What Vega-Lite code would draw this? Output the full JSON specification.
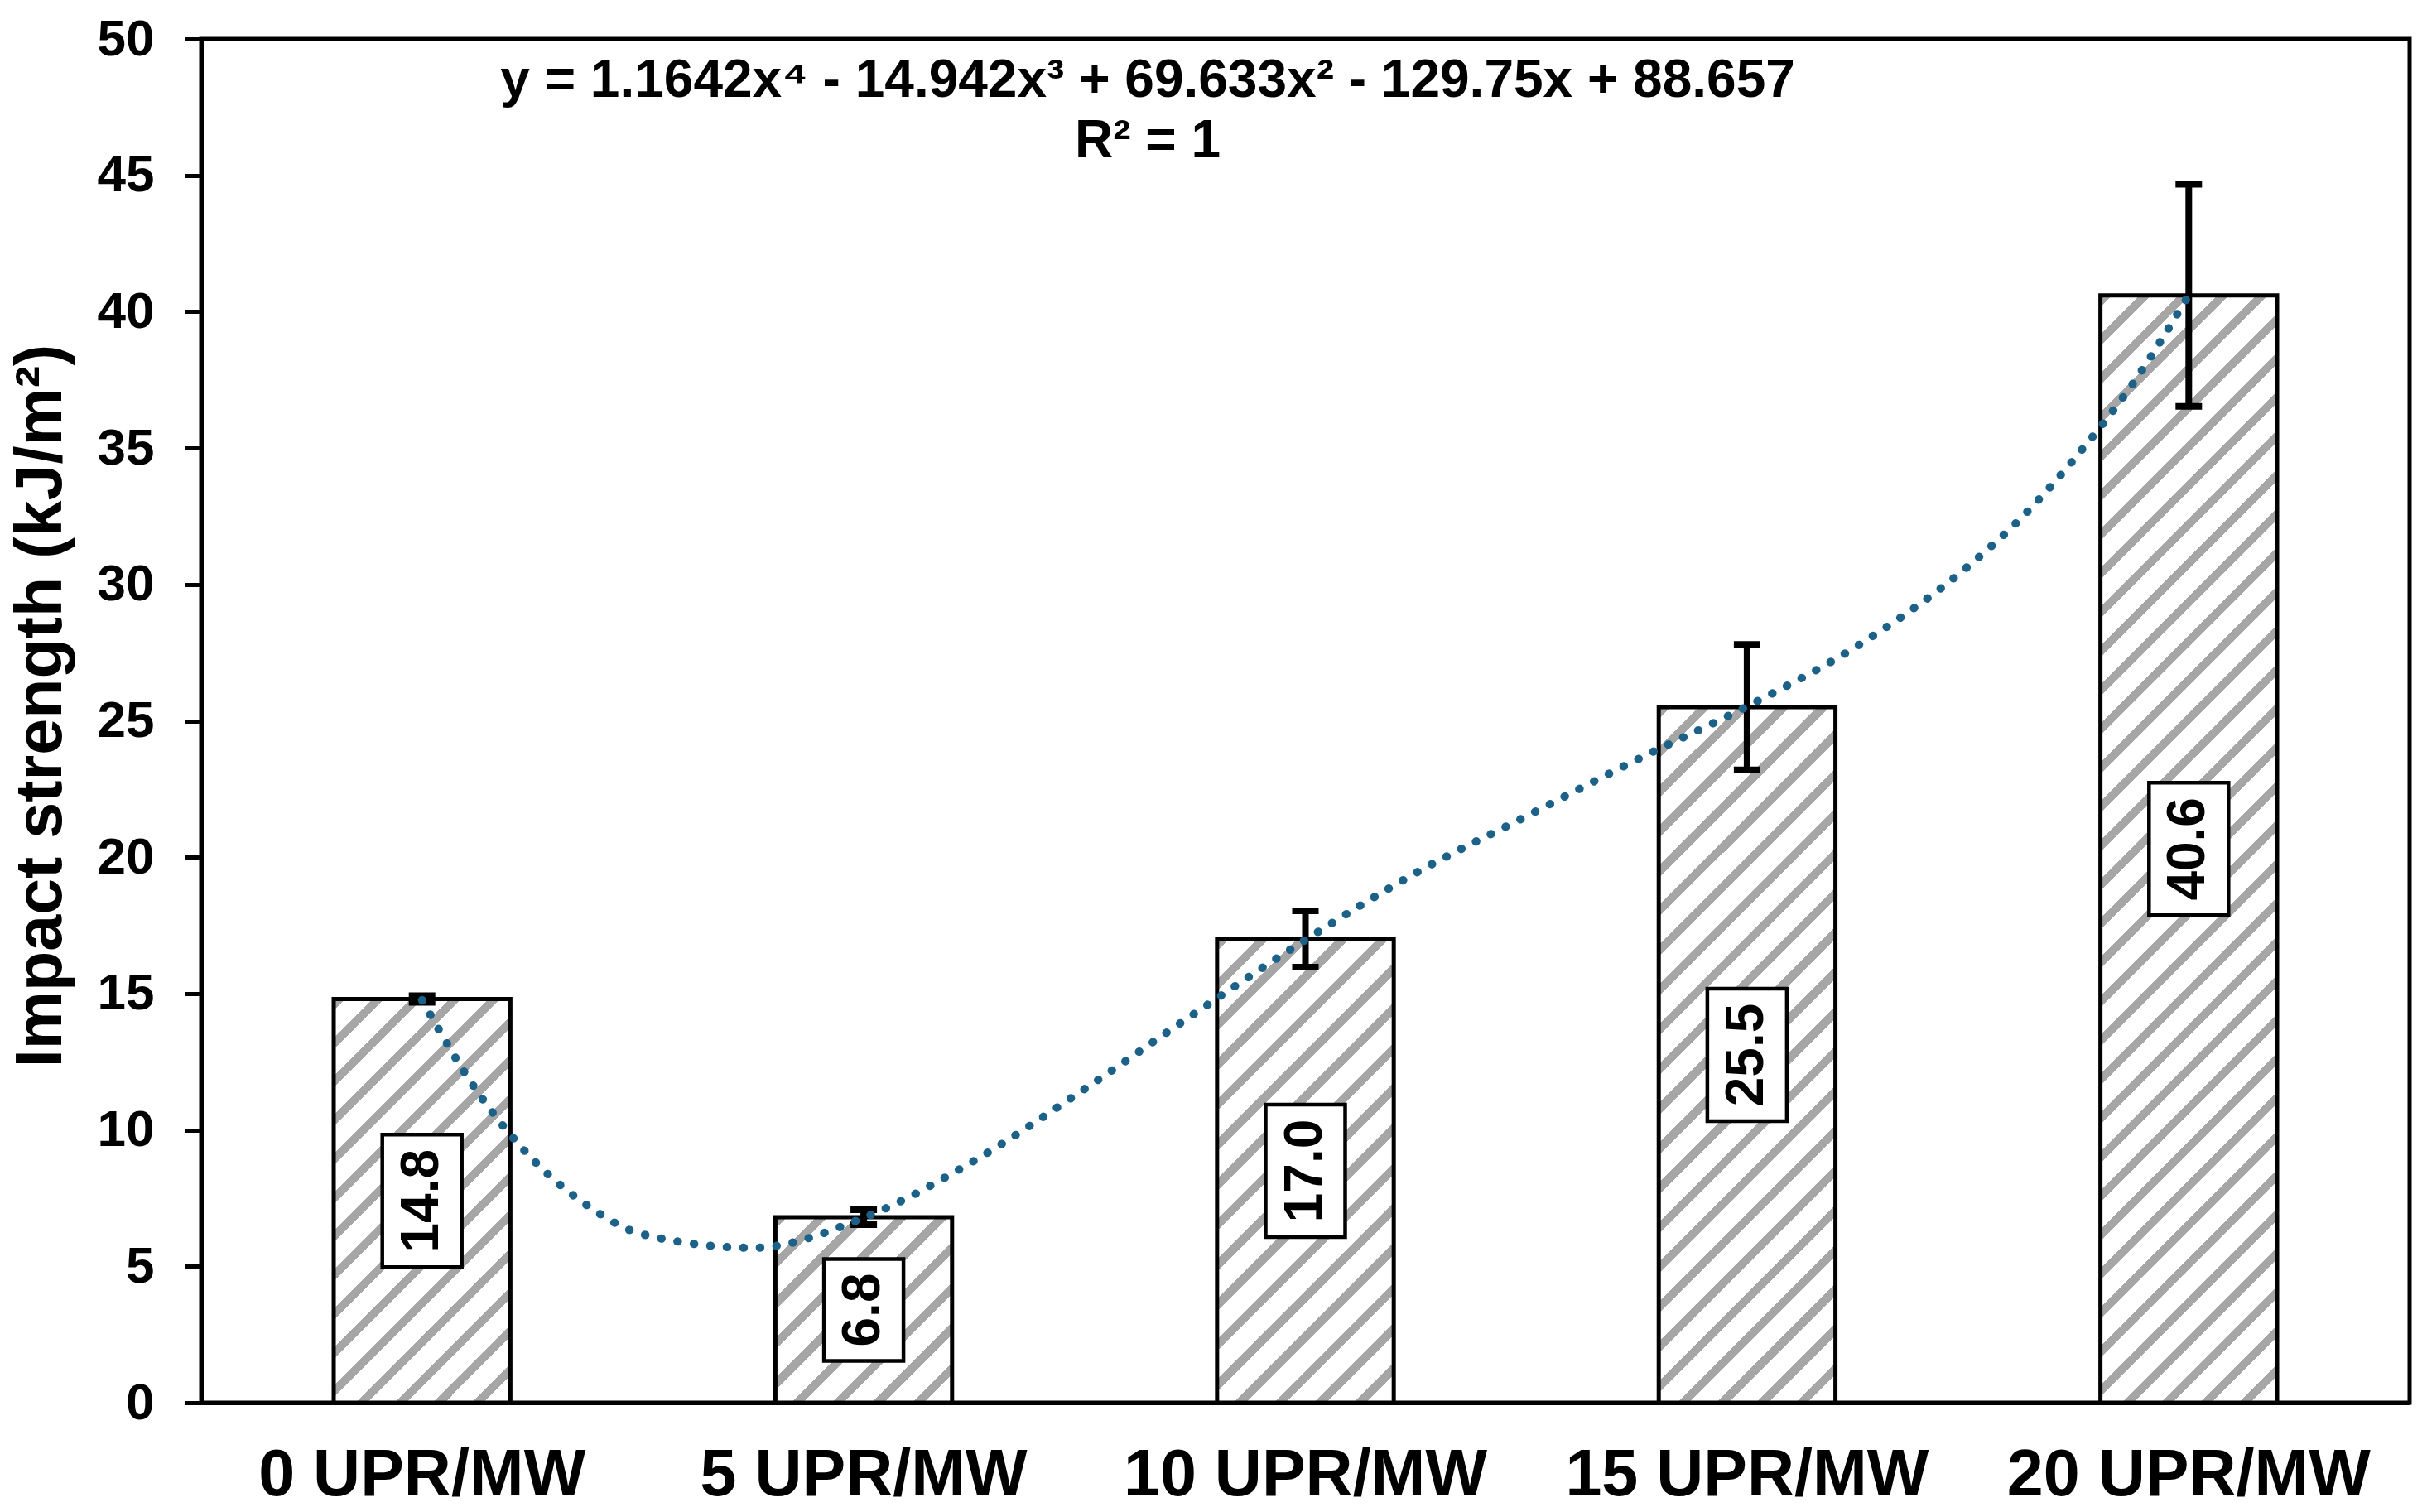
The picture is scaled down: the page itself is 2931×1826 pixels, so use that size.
{
  "$schema": "https://vega.github.io/schema/vega-lite/v6.json",
  "width": 2667,
  "height": 1647,
  "autosize": {"type": "none"},
  "padding": {"left": 243, "top": 47, "right": 21, "bottom": 132},
  "background": "white",
  "config": {
    "view": {"stroke": "black", "strokeWidth": 5},
    "font": "Liberation Sans"
  },
  "datasets": {
    "bars": [
      {"cat": "0 UPR/MW", "v": 14.8, "lo": 14.68, "hi": 14.92},
      {"cat": "5 UPR/MW", "v": 6.8, "lo": 6.53, "hi": 7.07},
      {"cat": "10 UPR/MW", "v": 17.0, "lo": 15.97, "hi": 18.03},
      {"cat": "15 UPR/MW", "v": 25.5, "lo": 23.2, "hi": 27.8},
      {"cat": "20 UPR/MW", "v": 40.6, "lo": 36.53, "hi": 44.67}
    ],
    "trend": [
      {"xi": 1, "yv": 14.76},
      {"xi": 1.125, "yv": 11.41},
      {"xi": 1.25, "yv": 8.93},
      {"xi": 1.375, "yv": 7.22},
      {"xi": 1.5, "yv": 6.17},
      {"xi": 1.75, "yv": 5.68},
      {"xi": 2, "yv": 6.78},
      {"xi": 2.25, "yv": 8.87},
      {"xi": 2.5, "yv": 11.5},
      {"xi": 2.75, "yv": 14.28},
      {"xi": 3, "yv": 16.97},
      {"xi": 3.25, "yv": 19.42},
      {"xi": 3.5, "yv": 21.5},
      {"xi": 3.75, "yv": 23.57},
      {"xi": 4, "yv": 25.53},
      {"xi": 4.25, "yv": 27.75},
      {"xi": 4.5, "yv": 30.66},
      {"xi": 4.625, "yv": 32.51},
      {"xi": 4.75, "yv": 34.78},
      {"xi": 4.875, "yv": 37.4},
      {"xi": 5, "yv": 40.61}
    ],
    "eq1": [{"t": "y = 1.1642x⁴ - 14.942x³ + 69.633x² - 129.75x + 88.657"}],
    "eq2": [{"t": "R² = 1"}]
  },
  "resolve": {"scale": {"x": "independent", "y": "independent"}},
  "layer": [
    {
      "data": {"name": "bars"},
      "mark": {"type": "bar", "stroke": "black", "strokeWidth": 5},
      "encoding": {
        "x": {
          "field": "cat", "type": "nominal", "sort": null,
          "scale": {"paddingInner": 0.6, "paddingOuter": 0.3},
          "axis": {
            "title": null, "labelAngle": 0, "labelFontSize": 79, "labelFontWeight": "bold",
            "labelFont": "Liberation Sans", "labelColor": "black", "labelPadding": 49, "labelLimit": 0,
            "labelOverlap": false, "labelBound": false, "labelFlush": false,
            "ticks": false, "tickSize": 0, "domainColor": "black", "domainWidth": 5, "grid": false
          }
        },
        "y": {
          "field": "v", "type": "quantitative",
          "scale": {"domain": [0, 50], "nice": false, "zero": true},
          "axis": {
            "values": [0, 5, 10, 15, 20, 25, 30, 35, 40, 45, 50],
            "title": "Impact strength (kJ/m²)", "titleFontSize": 79, "titleFontWeight": "bold",
            "titleFont": "Liberation Sans", "titleColor": "black", "titlePadding": 27, "titleY": 805,
            "labelFontSize": 62, "labelFontWeight": "bold", "labelFont": "Liberation Sans",
            "labelColor": "black", "labelPadding": 37, "tickSize": 20, "tickWidth": 5,
            "tickColor": "black", "domainColor": "black", "domainWidth": 5, "grid": false
          }
        },
        "fill": {
          "condition": [
            {"test": "datum.cat === '0 UPR/MW'", "value": {"gradient": "linear", "x1": 0, "y1": 0, "x2": 0.5281, "y2": 1.2066, "stops": [
              {"offset": 0, "color": "#a6a6a6"}, {"offset": 0.02, "color": "#a6a6a6"}, {"offset": 0.02, "color": "#ffffff"}, {"offset": 0.0667, "color": "#ffffff"},
              {"offset": 0.0667, "color": "#a6a6a6"}, {"offset": 0.0867, "color": "#a6a6a6"}, {"offset": 0.0867, "color": "#ffffff"}, {"offset": 0.1333, "color": "#ffffff"},
              {"offset": 0.1333, "color": "#a6a6a6"}, {"offset": 0.1533, "color": "#a6a6a6"}, {"offset": 0.1533, "color": "#ffffff"}, {"offset": 0.2, "color": "#ffffff"},
              {"offset": 0.2, "color": "#a6a6a6"}, {"offset": 0.22, "color": "#a6a6a6"}, {"offset": 0.22, "color": "#ffffff"}, {"offset": 0.2667, "color": "#ffffff"},
              {"offset": 0.2667, "color": "#a6a6a6"}, {"offset": 0.2867, "color": "#a6a6a6"}, {"offset": 0.2867, "color": "#ffffff"}, {"offset": 0.3333, "color": "#ffffff"},
              {"offset": 0.3333, "color": "#a6a6a6"}, {"offset": 0.3533, "color": "#a6a6a6"}, {"offset": 0.3533, "color": "#ffffff"}, {"offset": 0.4, "color": "#ffffff"},
              {"offset": 0.4, "color": "#a6a6a6"}, {"offset": 0.42, "color": "#a6a6a6"}, {"offset": 0.42, "color": "#ffffff"}, {"offset": 0.4667, "color": "#ffffff"},
              {"offset": 0.4667, "color": "#a6a6a6"}, {"offset": 0.4867, "color": "#a6a6a6"}, {"offset": 0.4867, "color": "#ffffff"}, {"offset": 0.5333, "color": "#ffffff"},
              {"offset": 0.5333, "color": "#a6a6a6"}, {"offset": 0.5533, "color": "#a6a6a6"}, {"offset": 0.5533, "color": "#ffffff"}, {"offset": 0.6, "color": "#ffffff"},
              {"offset": 0.6, "color": "#a6a6a6"}, {"offset": 0.62, "color": "#a6a6a6"}, {"offset": 0.62, "color": "#ffffff"}, {"offset": 0.6667, "color": "#ffffff"},
              {"offset": 0.6667, "color": "#a6a6a6"}, {"offset": 0.6867, "color": "#a6a6a6"}, {"offset": 0.6867, "color": "#ffffff"}, {"offset": 0.7333, "color": "#ffffff"},
              {"offset": 0.7333, "color": "#a6a6a6"}, {"offset": 0.7533, "color": "#a6a6a6"}, {"offset": 0.7533, "color": "#ffffff"}, {"offset": 0.8, "color": "#ffffff"},
              {"offset": 0.8, "color": "#a6a6a6"}, {"offset": 0.82, "color": "#a6a6a6"}, {"offset": 0.82, "color": "#ffffff"}, {"offset": 0.8667, "color": "#ffffff"},
              {"offset": 0.8667, "color": "#a6a6a6"}, {"offset": 0.8867, "color": "#a6a6a6"}, {"offset": 0.8867, "color": "#ffffff"}, {"offset": 0.9333, "color": "#ffffff"},
              {"offset": 0.9333, "color": "#a6a6a6"}, {"offset": 0.9533, "color": "#a6a6a6"}, {"offset": 0.9533, "color": "#ffffff"}, {"offset": 1, "color": "#ffffff"}
            ]}},
            {"test": "datum.cat === '5 UPR/MW'", "value": {"gradient": "linear", "x1": 0, "y1": 0, "x2": 0.9751, "y2": 1.0237, "stops": [
              {"offset": 0, "color": "#a6a6a6"}, {"offset": 0.0333, "color": "#a6a6a6"}, {"offset": 0.0333, "color": "#ffffff"}, {"offset": 0.1111, "color": "#ffffff"},
              {"offset": 0.1111, "color": "#a6a6a6"}, {"offset": 0.1444, "color": "#a6a6a6"}, {"offset": 0.1444, "color": "#ffffff"}, {"offset": 0.2222, "color": "#ffffff"},
              {"offset": 0.2222, "color": "#a6a6a6"}, {"offset": 0.2556, "color": "#a6a6a6"}, {"offset": 0.2556, "color": "#ffffff"}, {"offset": 0.3333, "color": "#ffffff"},
              {"offset": 0.3333, "color": "#a6a6a6"}, {"offset": 0.3667, "color": "#a6a6a6"}, {"offset": 0.3667, "color": "#ffffff"}, {"offset": 0.4444, "color": "#ffffff"},
              {"offset": 0.4444, "color": "#a6a6a6"}, {"offset": 0.4778, "color": "#a6a6a6"}, {"offset": 0.4778, "color": "#ffffff"}, {"offset": 0.5556, "color": "#ffffff"},
              {"offset": 0.5556, "color": "#a6a6a6"}, {"offset": 0.5889, "color": "#a6a6a6"}, {"offset": 0.5889, "color": "#ffffff"}, {"offset": 0.6667, "color": "#ffffff"},
              {"offset": 0.6667, "color": "#a6a6a6"}, {"offset": 0.7, "color": "#a6a6a6"}, {"offset": 0.7, "color": "#ffffff"}, {"offset": 0.7778, "color": "#ffffff"},
              {"offset": 0.7778, "color": "#a6a6a6"}, {"offset": 0.8111, "color": "#a6a6a6"}, {"offset": 0.8111, "color": "#ffffff"}, {"offset": 0.8889, "color": "#ffffff"},
              {"offset": 0.8889, "color": "#a6a6a6"}, {"offset": 0.9222, "color": "#a6a6a6"}, {"offset": 0.9222, "color": "#ffffff"}, {"offset": 1, "color": "#ffffff"}
            ]}},
            {"test": "datum.cat === '10 UPR/MW'", "value": {"gradient": "linear", "x1": 0, "y1": 0, "x2": 0.4595, "y2": 1.2059, "stops": [
              {"offset": 0, "color": "#a6a6a6"}, {"offset": 0.0188, "color": "#a6a6a6"}, {"offset": 0.0188, "color": "#ffffff"}, {"offset": 0.0625, "color": "#ffffff"},
              {"offset": 0.0625, "color": "#a6a6a6"}, {"offset": 0.0813, "color": "#a6a6a6"}, {"offset": 0.0813, "color": "#ffffff"}, {"offset": 0.125, "color": "#ffffff"},
              {"offset": 0.125, "color": "#a6a6a6"}, {"offset": 0.1438, "color": "#a6a6a6"}, {"offset": 0.1438, "color": "#ffffff"}, {"offset": 0.1875, "color": "#ffffff"},
              {"offset": 0.1875, "color": "#a6a6a6"}, {"offset": 0.2063, "color": "#a6a6a6"}, {"offset": 0.2063, "color": "#ffffff"}, {"offset": 0.25, "color": "#ffffff"},
              {"offset": 0.25, "color": "#a6a6a6"}, {"offset": 0.2688, "color": "#a6a6a6"}, {"offset": 0.2688, "color": "#ffffff"}, {"offset": 0.3125, "color": "#ffffff"},
              {"offset": 0.3125, "color": "#a6a6a6"}, {"offset": 0.3313, "color": "#a6a6a6"}, {"offset": 0.3313, "color": "#ffffff"}, {"offset": 0.375, "color": "#ffffff"},
              {"offset": 0.375, "color": "#a6a6a6"}, {"offset": 0.3938, "color": "#a6a6a6"}, {"offset": 0.3938, "color": "#ffffff"}, {"offset": 0.4375, "color": "#ffffff"},
              {"offset": 0.4375, "color": "#a6a6a6"}, {"offset": 0.4563, "color": "#a6a6a6"}, {"offset": 0.4563, "color": "#ffffff"}, {"offset": 0.5, "color": "#ffffff"},
              {"offset": 0.5, "color": "#a6a6a6"}, {"offset": 0.5188, "color": "#a6a6a6"}, {"offset": 0.5188, "color": "#ffffff"}, {"offset": 0.5625, "color": "#ffffff"},
              {"offset": 0.5625, "color": "#a6a6a6"}, {"offset": 0.5813, "color": "#a6a6a6"}, {"offset": 0.5813, "color": "#ffffff"}, {"offset": 0.625, "color": "#ffffff"},
              {"offset": 0.625, "color": "#a6a6a6"}, {"offset": 0.6438, "color": "#a6a6a6"}, {"offset": 0.6438, "color": "#ffffff"}, {"offset": 0.6875, "color": "#ffffff"},
              {"offset": 0.6875, "color": "#a6a6a6"}, {"offset": 0.7063, "color": "#a6a6a6"}, {"offset": 0.7063, "color": "#ffffff"}, {"offset": 0.75, "color": "#ffffff"},
              {"offset": 0.75, "color": "#a6a6a6"}, {"offset": 0.7688, "color": "#a6a6a6"}, {"offset": 0.7688, "color": "#ffffff"}, {"offset": 0.8125, "color": "#ffffff"},
              {"offset": 0.8125, "color": "#a6a6a6"}, {"offset": 0.8313, "color": "#a6a6a6"}, {"offset": 0.8313, "color": "#ffffff"}, {"offset": 0.875, "color": "#ffffff"},
              {"offset": 0.875, "color": "#a6a6a6"}, {"offset": 0.8938, "color": "#a6a6a6"}, {"offset": 0.8938, "color": "#ffffff"}, {"offset": 0.9375, "color": "#ffffff"},
              {"offset": 0.9375, "color": "#a6a6a6"}, {"offset": 0.9563, "color": "#a6a6a6"}, {"offset": 0.9563, "color": "#ffffff"}, {"offset": 1, "color": "#ffffff"}
            ]}},
            {"test": "datum.cat === '15 UPR/MW'", "value": {"gradient": "linear", "x1": 0, "y1": 0, "x2": 0.2992, "y2": 1.178, "stops": [
              {"offset": 0, "color": "#a6a6a6"}, {"offset": 0.0136, "color": "#a6a6a6"}, {"offset": 0.0136, "color": "#ffffff"}, {"offset": 0.0455, "color": "#ffffff"},
              {"offset": 0.0455, "color": "#a6a6a6"}, {"offset": 0.0591, "color": "#a6a6a6"}, {"offset": 0.0591, "color": "#ffffff"}, {"offset": 0.0909, "color": "#ffffff"},
              {"offset": 0.0909, "color": "#a6a6a6"}, {"offset": 0.1045, "color": "#a6a6a6"}, {"offset": 0.1045, "color": "#ffffff"}, {"offset": 0.1364, "color": "#ffffff"},
              {"offset": 0.1364, "color": "#a6a6a6"}, {"offset": 0.15, "color": "#a6a6a6"}, {"offset": 0.15, "color": "#ffffff"}, {"offset": 0.1818, "color": "#ffffff"},
              {"offset": 0.1818, "color": "#a6a6a6"}, {"offset": 0.1954, "color": "#a6a6a6"}, {"offset": 0.1954, "color": "#ffffff"}, {"offset": 0.2273, "color": "#ffffff"},
              {"offset": 0.2273, "color": "#a6a6a6"}, {"offset": 0.2409, "color": "#a6a6a6"}, {"offset": 0.2409, "color": "#ffffff"}, {"offset": 0.2727, "color": "#ffffff"},
              {"offset": 0.2727, "color": "#a6a6a6"}, {"offset": 0.2863, "color": "#a6a6a6"}, {"offset": 0.2863, "color": "#ffffff"}, {"offset": 0.3182, "color": "#ffffff"},
              {"offset": 0.3182, "color": "#a6a6a6"}, {"offset": 0.3318, "color": "#a6a6a6"}, {"offset": 0.3318, "color": "#ffffff"}, {"offset": 0.3636, "color": "#ffffff"},
              {"offset": 0.3636, "color": "#a6a6a6"}, {"offset": 0.3772, "color": "#a6a6a6"}, {"offset": 0.3772, "color": "#ffffff"}, {"offset": 0.4091, "color": "#ffffff"},
              {"offset": 0.4091, "color": "#a6a6a6"}, {"offset": 0.4227, "color": "#a6a6a6"}, {"offset": 0.4227, "color": "#ffffff"}, {"offset": 0.4545, "color": "#ffffff"},
              {"offset": 0.4545, "color": "#a6a6a6"}, {"offset": 0.4681, "color": "#a6a6a6"}, {"offset": 0.4681, "color": "#ffffff"}, {"offset": 0.5, "color": "#ffffff"},
              {"offset": 0.5, "color": "#a6a6a6"}, {"offset": 0.5136, "color": "#a6a6a6"}, {"offset": 0.5136, "color": "#ffffff"}, {"offset": 0.5455, "color": "#ffffff"},
              {"offset": 0.5455, "color": "#a6a6a6"}, {"offset": 0.5591, "color": "#a6a6a6"}, {"offset": 0.5591, "color": "#ffffff"}, {"offset": 0.5909, "color": "#ffffff"},
              {"offset": 0.5909, "color": "#a6a6a6"}, {"offset": 0.6045, "color": "#a6a6a6"}, {"offset": 0.6045, "color": "#ffffff"}, {"offset": 0.6364, "color": "#ffffff"},
              {"offset": 0.6364, "color": "#a6a6a6"}, {"offset": 0.65, "color": "#a6a6a6"}, {"offset": 0.65, "color": "#ffffff"}, {"offset": 0.6818, "color": "#ffffff"},
              {"offset": 0.6818, "color": "#a6a6a6"}, {"offset": 0.6954, "color": "#a6a6a6"}, {"offset": 0.6954, "color": "#ffffff"}, {"offset": 0.7273, "color": "#ffffff"},
              {"offset": 0.7273, "color": "#a6a6a6"}, {"offset": 0.7409, "color": "#a6a6a6"}, {"offset": 0.7409, "color": "#ffffff"}, {"offset": 0.7727, "color": "#ffffff"},
              {"offset": 0.7727, "color": "#a6a6a6"}, {"offset": 0.7863, "color": "#a6a6a6"}, {"offset": 0.7863, "color": "#ffffff"}, {"offset": 0.8182, "color": "#ffffff"},
              {"offset": 0.8182, "color": "#a6a6a6"}, {"offset": 0.8318, "color": "#a6a6a6"}, {"offset": 0.8318, "color": "#ffffff"}, {"offset": 0.8636, "color": "#ffffff"},
              {"offset": 0.8636, "color": "#a6a6a6"}, {"offset": 0.8772, "color": "#a6a6a6"}, {"offset": 0.8772, "color": "#ffffff"}, {"offset": 0.9091, "color": "#ffffff"},
              {"offset": 0.9091, "color": "#a6a6a6"}, {"offset": 0.9227, "color": "#a6a6a6"}, {"offset": 0.9227, "color": "#ffffff"}, {"offset": 0.9545, "color": "#ffffff"},
              {"offset": 0.9545, "color": "#a6a6a6"}, {"offset": 0.9681, "color": "#a6a6a6"}, {"offset": 0.9681, "color": "#ffffff"}, {"offset": 1, "color": "#ffffff"}
            ]}},
            {"test": "datum.cat === '20 UPR/MW'", "value": {"gradient": "linear", "x1": 0, "y1": 0, "x2": 0.1804, "y2": 1.1308, "stops": [
              {"offset": 0, "color": "#a6a6a6"}, {"offset": 0.0091, "color": "#a6a6a6"}, {"offset": 0.0091, "color": "#ffffff"}, {"offset": 0.0303, "color": "#ffffff"},
              {"offset": 0.0303, "color": "#a6a6a6"}, {"offset": 0.0394, "color": "#a6a6a6"}, {"offset": 0.0394, "color": "#ffffff"}, {"offset": 0.0606, "color": "#ffffff"},
              {"offset": 0.0606, "color": "#a6a6a6"}, {"offset": 0.0697, "color": "#a6a6a6"}, {"offset": 0.0697, "color": "#ffffff"}, {"offset": 0.0909, "color": "#ffffff"},
              {"offset": 0.0909, "color": "#a6a6a6"}, {"offset": 0.1, "color": "#a6a6a6"}, {"offset": 0.1, "color": "#ffffff"}, {"offset": 0.1212, "color": "#ffffff"},
              {"offset": 0.1212, "color": "#a6a6a6"}, {"offset": 0.1303, "color": "#a6a6a6"}, {"offset": 0.1303, "color": "#ffffff"}, {"offset": 0.1515, "color": "#ffffff"},
              {"offset": 0.1515, "color": "#a6a6a6"}, {"offset": 0.1606, "color": "#a6a6a6"}, {"offset": 0.1606, "color": "#ffffff"}, {"offset": 0.1818, "color": "#ffffff"},
              {"offset": 0.1818, "color": "#a6a6a6"}, {"offset": 0.1909, "color": "#a6a6a6"}, {"offset": 0.1909, "color": "#ffffff"}, {"offset": 0.2121, "color": "#ffffff"},
              {"offset": 0.2121, "color": "#a6a6a6"}, {"offset": 0.2212, "color": "#a6a6a6"}, {"offset": 0.2212, "color": "#ffffff"}, {"offset": 0.2424, "color": "#ffffff"},
              {"offset": 0.2424, "color": "#a6a6a6"}, {"offset": 0.2515, "color": "#a6a6a6"}, {"offset": 0.2515, "color": "#ffffff"}, {"offset": 0.2727, "color": "#ffffff"},
              {"offset": 0.2727, "color": "#a6a6a6"}, {"offset": 0.2818, "color": "#a6a6a6"}, {"offset": 0.2818, "color": "#ffffff"}, {"offset": 0.303, "color": "#ffffff"},
              {"offset": 0.303, "color": "#a6a6a6"}, {"offset": 0.3121, "color": "#a6a6a6"}, {"offset": 0.3121, "color": "#ffffff"}, {"offset": 0.3333, "color": "#ffffff"},
              {"offset": 0.3333, "color": "#a6a6a6"}, {"offset": 0.3424, "color": "#a6a6a6"}, {"offset": 0.3424, "color": "#ffffff"}, {"offset": 0.3636, "color": "#ffffff"},
              {"offset": 0.3636, "color": "#a6a6a6"}, {"offset": 0.3727, "color": "#a6a6a6"}, {"offset": 0.3727, "color": "#ffffff"}, {"offset": 0.3939, "color": "#ffffff"},
              {"offset": 0.3939, "color": "#a6a6a6"}, {"offset": 0.403, "color": "#a6a6a6"}, {"offset": 0.403, "color": "#ffffff"}, {"offset": 0.4242, "color": "#ffffff"},
              {"offset": 0.4242, "color": "#a6a6a6"}, {"offset": 0.4333, "color": "#a6a6a6"}, {"offset": 0.4333, "color": "#ffffff"}, {"offset": 0.4545, "color": "#ffffff"},
              {"offset": 0.4545, "color": "#a6a6a6"}, {"offset": 0.4636, "color": "#a6a6a6"}, {"offset": 0.4636, "color": "#ffffff"}, {"offset": 0.4848, "color": "#ffffff"},
              {"offset": 0.4848, "color": "#a6a6a6"}, {"offset": 0.4939, "color": "#a6a6a6"}, {"offset": 0.4939, "color": "#ffffff"}, {"offset": 0.5152, "color": "#ffffff"},
              {"offset": 0.5152, "color": "#a6a6a6"}, {"offset": 0.5243, "color": "#a6a6a6"}, {"offset": 0.5243, "color": "#ffffff"}, {"offset": 0.5455, "color": "#ffffff"},
              {"offset": 0.5455, "color": "#a6a6a6"}, {"offset": 0.5546, "color": "#a6a6a6"}, {"offset": 0.5546, "color": "#ffffff"}, {"offset": 0.5758, "color": "#ffffff"},
              {"offset": 0.5758, "color": "#a6a6a6"}, {"offset": 0.5849, "color": "#a6a6a6"}, {"offset": 0.5849, "color": "#ffffff"}, {"offset": 0.6061, "color": "#ffffff"},
              {"offset": 0.6061, "color": "#a6a6a6"}, {"offset": 0.6152, "color": "#a6a6a6"}, {"offset": 0.6152, "color": "#ffffff"}, {"offset": 0.6364, "color": "#ffffff"},
              {"offset": 0.6364, "color": "#a6a6a6"}, {"offset": 0.6455, "color": "#a6a6a6"}, {"offset": 0.6455, "color": "#ffffff"}, {"offset": 0.6667, "color": "#ffffff"},
              {"offset": 0.6667, "color": "#a6a6a6"}, {"offset": 0.6758, "color": "#a6a6a6"}, {"offset": 0.6758, "color": "#ffffff"}, {"offset": 0.697, "color": "#ffffff"},
              {"offset": 0.697, "color": "#a6a6a6"}, {"offset": 0.7061, "color": "#a6a6a6"}, {"offset": 0.7061, "color": "#ffffff"}, {"offset": 0.7273, "color": "#ffffff"},
              {"offset": 0.7273, "color": "#a6a6a6"}, {"offset": 0.7364, "color": "#a6a6a6"}, {"offset": 0.7364, "color": "#ffffff"}, {"offset": 0.7576, "color": "#ffffff"},
              {"offset": 0.7576, "color": "#a6a6a6"}, {"offset": 0.7667, "color": "#a6a6a6"}, {"offset": 0.7667, "color": "#ffffff"}, {"offset": 0.7879, "color": "#ffffff"},
              {"offset": 0.7879, "color": "#a6a6a6"}, {"offset": 0.797, "color": "#a6a6a6"}, {"offset": 0.797, "color": "#ffffff"}, {"offset": 0.8182, "color": "#ffffff"},
              {"offset": 0.8182, "color": "#a6a6a6"}, {"offset": 0.8273, "color": "#a6a6a6"}, {"offset": 0.8273, "color": "#ffffff"}, {"offset": 0.8485, "color": "#ffffff"},
              {"offset": 0.8485, "color": "#a6a6a6"}, {"offset": 0.8576, "color": "#a6a6a6"}, {"offset": 0.8576, "color": "#ffffff"}, {"offset": 0.8788, "color": "#ffffff"},
              {"offset": 0.8788, "color": "#a6a6a6"}, {"offset": 0.8879, "color": "#a6a6a6"}, {"offset": 0.8879, "color": "#ffffff"}, {"offset": 0.9091, "color": "#ffffff"},
              {"offset": 0.9091, "color": "#a6a6a6"}, {"offset": 0.9182, "color": "#a6a6a6"}, {"offset": 0.9182, "color": "#ffffff"}, {"offset": 0.9394, "color": "#ffffff"},
              {"offset": 0.9394, "color": "#a6a6a6"}, {"offset": 0.9485, "color": "#a6a6a6"}, {"offset": 0.9485, "color": "#ffffff"}, {"offset": 0.9697, "color": "#ffffff"},
              {"offset": 0.9697, "color": "#a6a6a6"}, {"offset": 0.9788, "color": "#a6a6a6"}, {"offset": 0.9788, "color": "#ffffff"}, {"offset": 1, "color": "#ffffff"}
            ]}}
          ],
          "value": "#d0d0d0"
        }
      }
    },
    {
      "data": {"name": "bars"},
      "mark": {"type": "rule", "strokeWidth": 8, "color": "black", "opacity": 1},
      "encoding": {
        "x": {"field": "cat", "type": "nominal", "sort": null, "scale": {"paddingInner": 0.6, "paddingOuter": 0.3}, "axis": null},
        "y": {"field": "lo", "type": "quantitative", "scale": {"domain": [0, 50], "nice": false}, "axis": null},
        "y2": {"field": "hi"}
      }
    },
    {
      "data": {"name": "bars"},
      "mark": {"type": "tick", "size": 32, "thickness": 8, "color": "black", "opacity": 1},
      "encoding": {
        "x": {"field": "cat", "type": "nominal", "sort": null, "scale": {"paddingInner": 0.6, "paddingOuter": 0.3}, "axis": null},
        "y": {"field": "lo", "type": "quantitative", "scale": {"domain": [0, 50], "nice": false}, "axis": null}
      }
    },
    {
      "data": {"name": "bars"},
      "mark": {"type": "tick", "size": 32, "thickness": 8, "color": "black", "opacity": 1},
      "encoding": {
        "x": {"field": "cat", "type": "nominal", "sort": null, "scale": {"paddingInner": 0.6, "paddingOuter": 0.3}, "axis": null},
        "y": {"field": "hi", "type": "quantitative", "scale": {"domain": [0, 50], "nice": false}, "axis": null}
      }
    },
    {
      "data": {"name": "trend"},
      "mark": {"type": "line", "color": "#1c6288", "strokeWidth": 10, "strokeDash": [0.5, 19.5], "strokeCap": "round", "interpolate": "monotone"},
      "encoding": {
        "x": {"field": "xi", "type": "quantitative", "scale": {"domain": [0.5, 5.5], "nice": false, "zero": false}, "axis": null},
        "y": {"field": "yv", "type": "quantitative", "scale": {"domain": [0, 50], "nice": false}, "axis": null}
      }
    },
    {
      "data": {"name": "bars"},
      "mark": {"type": "point", "filled": true, "fill": "white", "stroke": "black", "strokeWidth": 4.5, "opacity": 1, "size": 25600},
      "encoding": {
        "x": {"field": "cat", "type": "nominal", "sort": null, "scale": {"paddingInner": 0.6, "paddingOuter": 0.3}, "axis": null},
        "y": {"field": "v", "type": "quantitative", "scale": {"domain": [0, 100], "nice": false}, "axis": null},
        "shape": {"condition": {"test": "datum.v < 10", "value": "M-0.6,-0.769H0.6V0.769H-0.6Z"}, "value": "M-0.6,-1H0.6V1H-0.6Z"}
      }
    },
    {
      "data": {"name": "bars"},
      "mark": {"type": "text", "angle": 270, "fontSize": 64, "fontWeight": "bold", "font": "Liberation Sans", "color": "black", "align": "center", "baseline": "middle"},
      "encoding": {
        "x": {"field": "cat", "type": "nominal", "sort": null, "scale": {"paddingInner": 0.6, "paddingOuter": 0.3}, "axis": null},
        "y": {"field": "v", "type": "quantitative", "scale": {"domain": [0, 100], "nice": false}, "axis": null},
        "text": {"field": "v", "type": "quantitative", "format": ".1f"}
      }
    },
    {
      "data": {"name": "eq1"},
      "mark": {"type": "text", "fontSize": 64, "fontWeight": "bold", "font": "Liberation Sans", "color": "black", "align": "center", "baseline": "alphabetic"},
      "encoding": {
        "x": {"datum": 2.643, "type": "quantitative", "scale": {"domain": [0.5, 5.5], "nice": false, "zero": false}, "axis": null},
        "y": {"datum": 47.87, "type": "quantitative", "scale": {"domain": [0, 50], "nice": false}, "axis": null},
        "text": {"field": "t", "type": "nominal"}
      }
    },
    {
      "data": {"name": "eq2"},
      "mark": {"type": "text", "fontSize": 64, "fontWeight": "bold", "font": "Liberation Sans", "color": "black", "align": "center", "baseline": "alphabetic"},
      "encoding": {
        "x": {"datum": 2.643, "type": "quantitative", "scale": {"domain": [0.5, 5.5], "nice": false, "zero": false}, "axis": null},
        "y": {"datum": 45.66, "type": "quantitative", "scale": {"domain": [0, 50], "nice": false}, "axis": null},
        "text": {"field": "t", "type": "nominal"}
      }
    }
  ]
}
